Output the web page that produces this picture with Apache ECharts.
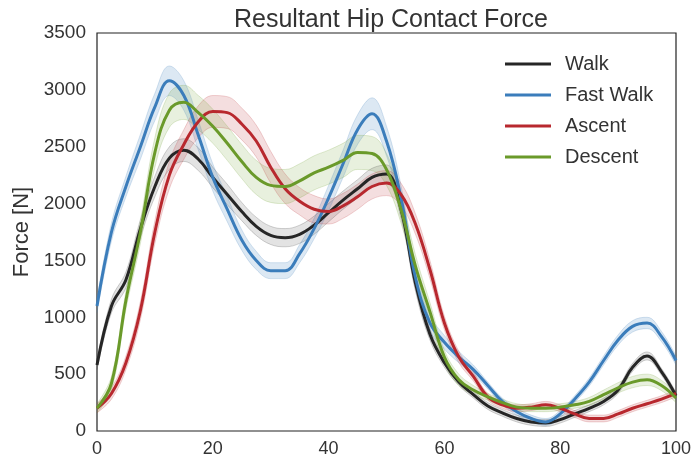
<!DOCTYPE html>
<html>
<head>
<meta charset="utf-8">
<script src="https://cdn.jsdelivr.net/npm/echarts@6/dist/echarts.min.js"></script>
<style>html,body{margin:0;padding:0;background:#fff}#c{width:695px;height:464px}</style>
</head>
<body>
<div id="c"></div>
<script>
const xs = [0,2.5,5,7.5,10,12.5,15,17.5,20,22.5,25,27.5,30,32.5,35,37.5,40,42.5,45,47.5,50,52.5,55,57.5,60,62.5,65,67.5,70,72.5,75,77.5,80,82.5,85,87.5,90,92.5,95,97.5,100];
const seriesNames = ['Walk','Fast Walk','Ascent','Descent'];
const walk = [580,1100,1330,1780,2150,2400,2470,2390,2230,2080,1930,1800,1720,1700,1730,1810,1920,2030,2130,2230,2260,1950,1300,850,600,430,320,220,160,110,80,70,100,150,200,260,360,560,660,520,310];
const fastWalk = [1100,1750,2150,2500,2850,3080,2950,2600,2230,1950,1680,1500,1410,1410,1560,1780,2050,2350,2650,2790,2550,2050,1350,950,780,650,540,400,260,170,110,80,150,280,430,620,800,920,950,830,620];
const ascent = [200,330,600,1060,1750,2250,2520,2720,2810,2800,2700,2550,2320,2130,2020,1950,1930,1980,2060,2150,2180,2080,1820,1420,950,650,480,300,230,200,210,230,200,150,110,110,150,200,240,280,330];
const descent = [200,420,1150,1750,2450,2820,2890,2800,2680,2530,2370,2230,2160,2150,2200,2270,2320,2380,2450,2440,2300,1950,1450,1050,650,450,360,300,250,210,200,200,210,230,260,320,380,430,450,400,290];
const walkBand = [40,60,70,80,90,100,100,100,90,90,80,80,80,80,80,80,80,80,80,80,80,80,70,50,40,30,30,30,30,30,30,30,30,30,30,30,30,35,35,30,30];
const fastWalkBand = [60,80,90,110,120,130,130,130,120,110,90,80,70,70,80,90,110,120,130,140,130,110,90,70,60,50,40,30,30,30,30,30,30,30,35,40,45,50,50,45,40];
const ascentBand = [40,50,60,80,100,120,130,140,140,140,140,140,140,130,120,120,110,110,110,110,110,100,90,80,60,50,40,30,30,30,30,30,30,30,30,30,30,30,30,30,30];
const descentBand = [40,60,80,100,130,150,150,150,150,150,150,150,150,150,150,150,150,150,150,150,140,120,100,80,60,50,40,30,30,30,30,30,30,30,35,40,45,50,50,45,40];
const xTicks = [0,20,40,60,80,100];
const yTicks = [0,500,1000,1500,2000,2500,3000,3500];

const colors = ['#262626','#3b7dbb','#b8282e','#6a9a2a'];
const fills = ['rgba(60,60,60,0.2)','rgba(59,125,187,0.25)','rgba(184,40,46,0.22)','rgba(106,154,42,0.22)'];
const values = [walk, fastWalk, ascent, descent];
const bands = [walkBand, fastWalkBand, ascentBand, descentBand];

const series = [];
values.forEach((v, i) => {
  series.push({
    name: seriesNames[i] + ' lo', type: 'line', stack: 's' + i, data: v.map((y, k) => y - bands[i][k]), smooth: 0.4,
    symbol: 'none', lineStyle: {width: 0.8, color: colors[i], opacity: 0.25}, silent: true, z: 1
  });
  series.push({
    name: seriesNames[i] + ' band', type: 'line', stack: 's' + i, data: bands[i].map(b => 2 * b), smooth: 0.4,
    symbol: 'none', lineStyle: {width: 0.8, color: colors[i], opacity: 0.25},
    areaStyle: {color: fills[i]}, silent: true, z: 1
  });
});
values.forEach((v, i) => {
  series.push({
    name: seriesNames[i], type: 'line', data: v, smooth: 0.4,
    symbol: 'none', lineStyle: {width: 3, color: colors[i]}, itemStyle: {color: colors[i]}, z: 3
  });
});

const font = 'Liberation Sans, Arial, sans-serif';
const chart = echarts.init(document.getElementById('c'));
chart.setOption({
  animation: false,
  title: {text: 'Resultant Hip Contact Force', left: 386, top: 3, textAlign: 'center',
    textStyle: {fontFamily: font, fontSize: 25, fontWeight: 'normal', color: '#333'}},
  legend: {data: seriesNames, orient: 'vertical', left: 500, top: 49, itemWidth: 46, itemHeight: 3, itemGap: 11, icon: 'rect',
    textStyle: {fontFamily: font, fontSize: 20, color: '#333', padding: [0,0,0,9]}},
  grid: {left: 97, right: 19, top: 33, bottom: 33, show: true, borderColor: '#222', borderWidth: 1.2},
  xAxis: {type: 'category', data: xs.map(String), boundaryGap: false,
    axisLine: {show: false}, axisTick: {show: false}, splitLine: {show: false},
    axisLabel: {fontFamily: font, fontSize: 18, color: '#333', margin: 9,
      interval: (idx, val) => xTicks.indexOf(Number(val)) >= 0}},
  yAxis: {type: 'value', min: yTicks[0], max: yTicks[yTicks.length-1], interval: 500,
    name: 'Force [N]', nameLocation: 'middle', nameGap: 60,
    nameTextStyle: {fontFamily: font, fontSize: 22, color: '#333'},
    axisLine: {show: false}, axisTick: {show: false}, splitLine: {show: false},
    axisLabel: {fontFamily: font, fontSize: 19, color: '#333', margin: 11, formatter: v => String(v)}},
  series: series
});
</script>
</body>
</html>
